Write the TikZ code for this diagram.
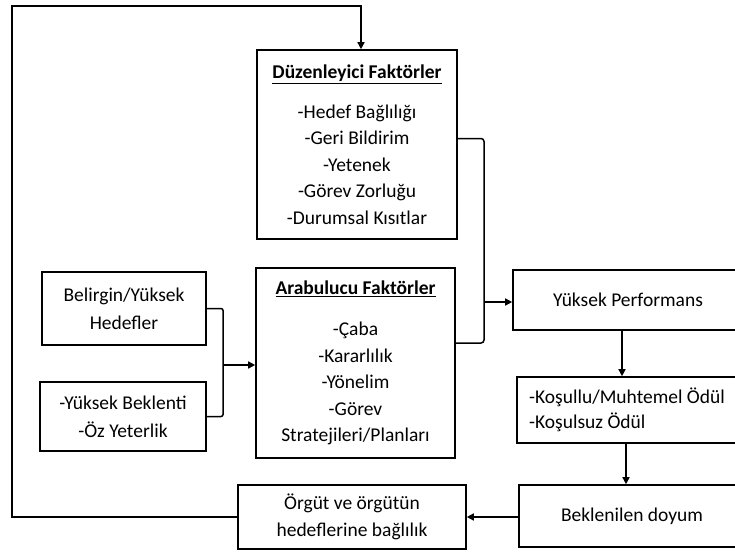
\documentclass[tikz,border=0pt]{standalone}
\usepackage{fontspec}
\setmainfont{Carlito}
\usetikzlibrary{arrows.meta,calc}
\tikzset{
  box/.style={draw=black, line width=1.6pt, inner sep=0pt, align=center,
    font=\fontsize{19.5}{26.5}\selectfont},
  lbl/.style={inner sep=0pt, align=left, font=\fontsize{19.5}{25}\selectfont},
  conn/.style={draw=black, line width=1.5pt},
  arr/.style={conn, -{Triangle[length=7pt,width=7pt]}},
}
\begin{document}
\begin{tikzpicture}[x=1pt,y=-1pt]
\useasboundingbox (0,0) rectangle (735,552);
\clip (0,0) rectangle (735,552);
\fill[white] (0,0) rectangle (735,552);

\node[box, minimum width=200pt, minimum height=189pt] (duz) at (357,144.5)
  {\underline{\textbf{Düzenleyici Faktörler}}\\[13.5pt]
   -Hedef Bağlılığı\\ -Geri Bildirim\\ -Yetenek\\ -Görev Zorluğu\\ -Durumsal Kısıtlar};
\node[box, minimum width=199pt, minimum height=190pt] (arab) at (355.5,363)
  {\underline{\textbf{Arabulucu Faktörler}}\\[15pt]
   -Çaba\\ -Kararlılık\\ -Yönelim\\ -Görev\\ Stratejileri/Planları};
\node[box, minimum width=164pt, minimum height=73pt, font=\fontsize{19.5}{28}\selectfont] (bel) at (124,308.5)
  {Belirgin/Yüksek\\ Hedefler};
\node[box, minimum width=166pt, minimum height=69pt, font=\fontsize{19.5}{28}\selectfont] (bek) at (123,416.5)
  {-Yüksek Beklenti\\ -Öz Yeterlik};
\node[box, minimum width=230pt, minimum height=60pt] (yp) at (628,300)
  {Yüksek Performans};
\node[box, minimum width=226pt, minimum height=66pt] (kos) at (630,410) {};
\node[lbl, anchor=west] (kostxt) at (529,410) {-Koşullu/Muhtemel Ödül\\-Koşulsuz Ödül};
\node[box, minimum width=226pt, minimum height=62pt] (bkl) at (632,516)
  {Beklenilen doyum};
\node[box, minimum width=228pt, minimum height=64pt] (org) at (352,517)
  {Örgüt ve örgütün\\ hedeflerine bağlılık};

% feedback loop
\coordinate (fb) at (12,6);
\draw[arr] (org.west) -| (fb) -| ([xshift=4pt]duz.north);

% left bracket
\coordinate (lb) at (223,365);
\draw[conn, rounded corners=2pt] (bel.east) -| (lb) |- (bek.east);
\draw[arr] (lb) -- (lb -| arab.west);

% right bracket
\coordinate (rb) at (484,302);
\draw[conn, rounded corners=3pt] ([yshift=6pt]duz.east) -| (rb) |- ([yshift=20pt]arab.east);
\draw[arr] (rb) -- (rb -| yp.west);

% right column
\draw[arr] ([xshift=-6pt]yp.south) -- ([xshift=-6pt]yp.south |- kos.north);
\draw[arr] ([xshift=-4pt]kos.south) -- ([xshift=-4pt]kos.south |- bkl.north);
\draw[arr] ([yshift=-1pt]bkl.west) -- ([yshift=-1pt]bkl.west -| org.east);
\end{tikzpicture}
\end{document}
